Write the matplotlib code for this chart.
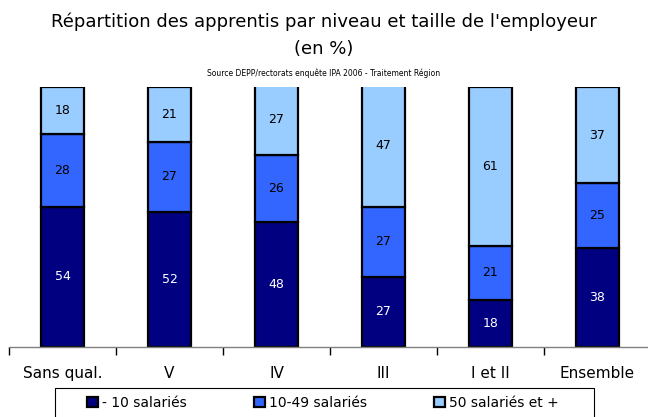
import numpy as np
import matplotlib.pyplot as plt
from matplotlib.patches import Rectangle

# Répartition des apprentis (en %)
niveaux = ['Sans qual.', 'V', 'IV', 'III', 'I et II', 'Ensemble']
moins_10 = [54, 52, 48, 27, 18, 38]
de_10_49 = [28, 27, 26, 27, 21, 25]
plus_50 = [18, 21, 27, 47, 61, 37]
series = ['- 10 salariés', '10-49 salariés', '50 salariés et +']
couleurs = ['#000080', '#3366FF', '#99CCFF']
couleurs_texte = ['white', 'black', 'black']

plt.rcParams['font.family'] = ['DejaVu Sans']

fig = plt.figure(figsize=(6.48, 4.17), dpi=100)
ax = fig.add_axes([9 / 648, 70 / 417, 642 / 648, 260 / 417])

x = np.arange(len(niveaux))
bottom = np.zeros(len(niveaux))
handles = []
for vals, col, tcol, lab in zip([moins_10, de_10_49, plus_50], couleurs, couleurs_texte, series):
    vals = np.array(vals)
    b = ax.bar(x, vals, 0.41, bottom=bottom, color=col, edgecolor='black',
               linewidth=1.6, label=lab)
    handles.append(b)
    for xi, v, bt in zip(x, vals, bottom):
        ax.text(xi, bt + v / 2, str(v), ha='center', va='center',
                color=tcol, fontsize=9)
    bottom += vals

ax.set_xlim(-0.5, 5.5)
ax.set_ylim(0, 100)
ax.set_yticks([])
for s in ['left', 'right', 'top']:
    ax.spines[s].set_visible(False)
ax.spines['bottom'].set_color('#808080')
ax.spines['bottom'].set_linewidth(1.0)

ax.set_xticks(np.arange(-0.5, 5.6, 1.0))
ax.set_xticklabels([])
ax.tick_params(axis='x', length=6, color='black', width=1.0)
ax.set_xticks(x, minor=True)
ax.set_xticklabels(niveaux, minor=True, fontsize=11)
ax.tick_params(axis='x', which='minor', length=0, pad=14)

fig.text(0.5, 1 - 22 / 417, "Répartition des apprentis par niveau et taille de l'employeur",
         ha='center', va='center', fontsize=13)
fig.text(0.5, 1 - 49 / 417, "(en %)", ha='center', va='center', fontsize=13)
fig.text(0.5, 1 - 73 / 417, "Source DEPP/rectorats enquête IPA 2006 - Traitement Région",
         ha='center', va='center', fontsize=5.5)

# cadre de la légende
fig.patches.append(Rectangle((55 / 648, -0.01), (594 - 55) / 648, (417 - 388) / 417 + 0.01,
                             transform=fig.transFigure, facecolor='white',
                             edgecolor='black', linewidth=0.8))
leg = fig.legend(handles=handles, labels=series, ncol=3, loc='center',
                 bbox_to_anchor=(323 / 648, 1 - 403 / 417), fontsize=10,
                 frameon=False, handlelength=0.8, handleheight=0.8,
                 handletextpad=0.3, columnspacing=4.8)

fig.savefig('out.png', dpi=100)
